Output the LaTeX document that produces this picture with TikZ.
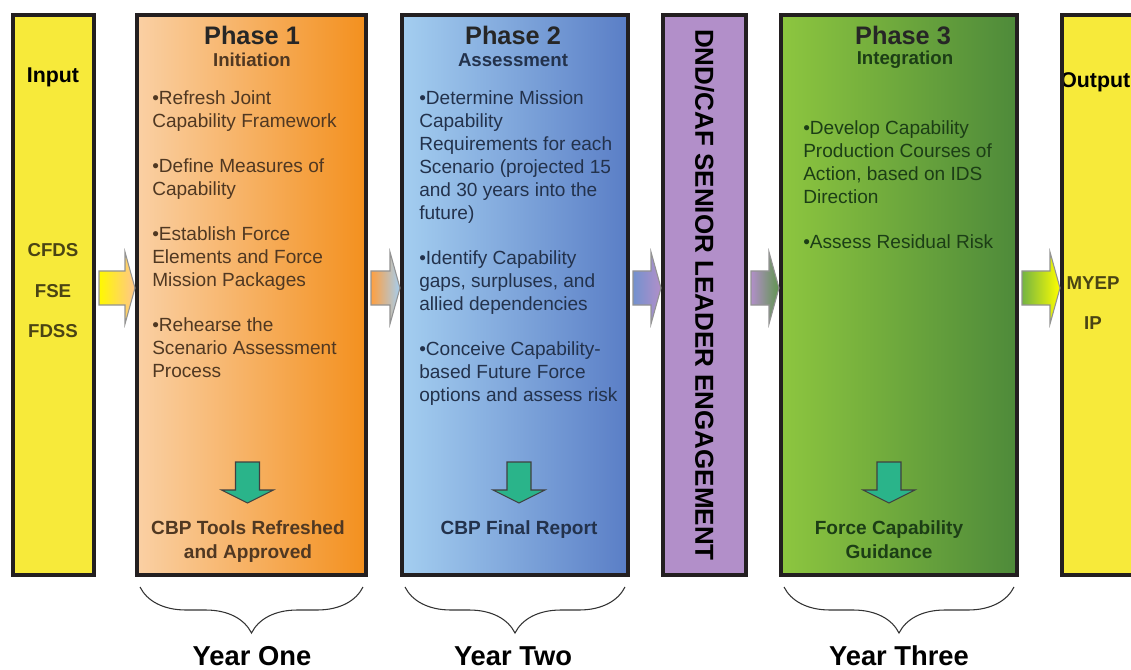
\documentclass[tikz,border=0pt]{standalone}
\usepackage{fontspec}
\setmainfont{Liberation Sans}
\usetikzlibrary{positioning, calc, decorations.pathreplacing}

\definecolor{boxline}{RGB}{35,31,32}
\definecolor{ioyellow}{RGB}{247,234,58}
\definecolor{iotext}{RGB}{74,68,20}
\definecolor{initpeach}{RGB}{250,208,164}
\definecolor{initmid}{RGB}{246,178,108}
\definecolor{initorange}{RGB}{243,144,30}
\definecolor{assesslight}{RGB}{164,206,240}
\definecolor{assessmid}{RGB}{124,166,222}
\definecolor{assessdark}{RGB}{90,126,198}
\definecolor{integlight}{RGB}{141,198,63}
\definecolor{integmid}{RGB}{116,180,66}
\definecolor{integdark}{RGB}{78,138,58}
\definecolor{leaderpurple}{RGB}{178,143,201}
\definecolor{resultgreen}{RGB}{42,180,138}
\definecolor{initink}{RGB}{80,56,34}
\definecolor{assessink}{RGB}{35,50,76}
\definecolor{integink}{RGB}{28,62,22}

% block arrow between two panels: from, to, left colour, right colour
\newcommand{\flowarrow}[4]{%
  \path[flow, left color=#3, right color=#4]
    ($(#1.east |- flowline)+(5,-17)$) -- ($(#2.west |- flowline)+(-12,-17)$)
    -- ($(#2.west |- flowline)+(-12,-36)$) -- ($(#2.west |- flowline)+(-2,0)$)
    -- ($(#2.west |- flowline)+(-12,36)$) -- ($(#2.west |- flowline)+(-12,17)$)
    -- ($(#1.east |- flowline)+(5,17)$) -- cycle;}

% green down arrow, top centre given
\newcommand{\resultarrow}[1]{%
  \draw[downarrow] (#1) ++(-12,0) -- ++(24,0) -- ++(0,28) -- ++(14,0)
    -- ++(-26,13) -- ++(-26,-13) -- ++(14,0) -- cycle;}

\begin{document}
\begin{tikzpicture}[
    x=0.75pt, y=-0.75pt,
    panel/.style={draw=boxline, line width=3.5pt, inner sep=0pt, outer sep=0pt,
        minimum height=420pt},
    heading/.style={font=\bfseries\fontsize{19}{22}\selectfont},
    subhead/.style={font=\bfseries\fontsize{14}{17}\selectfont},
    bullets/.style={align=left, anchor=north west, inner sep=0pt,
        font=\fontsize{14.3}{17.25}\selectfont},
    result/.style={align=center, anchor=north, inner sep=0pt,
        font=\bfseries\fontsize{14.3}{18}\selectfont},
    iolabel/.style={font=\bfseries\fontsize{14}{17}\selectfont, text=iotext},
    downarrow/.style={fill=resultgreen, draw=black!75, line width=0.8pt},
    flow/.style={draw=gray!85, line width=0.8pt},
    yearbrace/.style={decorate, decoration={brace, amplitude=34.5pt},
        draw=black!80, line width=0.8pt},
    year/.style={font=\bfseries\fontsize{20.5}{24}\selectfont}
]
\useasboundingbox (0,0) rectangle (1131,670);
\clip (0,0) rectangle (1131,670);
\coordinate (flowline) at (0,288);

% Panels
\node[panel, fill=ioyellow, minimum width=60.75pt] (inbox) at (53.5,295) {};
\node[panel, left color=initpeach, middle color=initmid, right color=initorange,
    minimum width=171.75pt] (ph1) at (251.5,295) {};
\node[panel, left color=assesslight, middle color=assessmid, right color=assessdark,
    minimum width=169.5pt] (ph2) at (515,295) {};
\node[panel, fill=leaderpurple, minimum width=62.25pt] (dnd) at (704.5,295) {};
\node[panel, left color=integlight, middle color=integmid, right color=integdark,
    minimum width=177pt] (ph3) at (899,295) {};
\node[panel, draw=none, fill=ioyellow, minimum width=66pt] (outbox) at (1106,295) {};

% Input column
\node[font=\bfseries\fontsize{16}{19}\selectfont] (inlbl) at (53,77) {Input};
\node[iolabel] (cfds) at (53,250) {CFDS};
\node[iolabel] (fse) at (53,291) {FSE};
\node[iolabel] (fdss) at (53,331) {FDSS};

% Phase 1
\node[heading, text=black!85] (ph1title) at (252,35) {Phase 1};
\node[subhead, text=initink] (ph1sub) at (252,60) {Initiation};
\node[bullets, text=initink] (ph1list) at (152,90) {%
  •Refresh Joint\\Capability Framework\\[16.5pt]
  •Define Measures of\\Capability\\[16.5pt]
  •Establish Force\\Elements and Force\\Mission Packages\\[16.5pt]
  •Rehearse the\\Scenario Assessment\\Process};
\resultarrow{$(ph1.south)+(-4,-113)$}
\node[result, text=initink] (ph1out) at (248,520) {CBP Tools Refreshed\\and Approved};

% Phase 2
\node[heading, text=black!85] (ph2title) at (513,35) {Phase 2};
\node[subhead, text=assessink] (ph2sub) at (513,60) {Assessment};
\node[bullets, text=assessink] (ph2list) at (419,90) {%
  •Determine Mission\\Capability\\Requirements for each\\Scenario (projected 15\\and 30 years into the\\future)\\[16.5pt]
  •Identify Capability\\gaps, surpluses, and\\allied dependencies\\[16.5pt]
  •Conceive Capability-\\based Future Force\\options and assess risk};
\resultarrow{$(ph2.south)+(4,-113)$}
\node[result, text=assessink] (ph2out) at (519,520) {CBP Final Report};

% Senior leader engagement
\node[rotate=-90, font=\bfseries\fontsize{19.5}{22}\selectfont] (dndlbl) at (dnd.center)
    {DND/CAF SENIOR LEADER ENGAGEMENT};

% Phase 3
\node[heading, text=black!85] (ph3title) at (903,35) {Phase 3};
\node[subhead, text=integink] (ph3sub) at (905,60) {Integration};
\node[bullets, text=integink] (ph3list) at (803,120) {%
  •Develop Capability\\Production Courses of\\Action, based on IDS\\Direction\\[16.5pt]
  •Assess Residual Risk};
\resultarrow{$(ph3.south)+(-10,-113)$}
\node[result, text=integink] (ph3out) at (889,520) {Force Capability\\Guidance};

% Output column
\node[font=\bfseries\fontsize{16}{19}\selectfont, anchor=west, inner sep=0pt] (outlbl)
    at (1060,82) {Output};
\draw[draw=boxline, line width=3.5pt] (outbox.north west) rectangle (outbox.south east);
\node[iolabel] (myep) at (1093,283) {MYEP};
\node[iolabel] (ip) at (1093,323) {IP};

% Flow between panels
\flowarrow{inbox}{ph1}{yellow!95!orange}{orange!45}
\flowarrow{ph1}{ph2}{orange!75}{assesslight}
\flowarrow{ph2}{dnd}{assessdark!85}{leaderpurple}
\flowarrow{dnd}{ph3}{leaderpurple}{integdark!90}
\flowarrow{ph3}{outbox}{integmid}{yellow}

% Years
\draw[yearbrace] ($(ph1.south east)+(-3,12)$) -- ($(ph1.south west)+(3,12)$);
\draw[yearbrace] ($(ph2.south east)+(-3,12)$) -- ($(ph2.south west)+(3,12)$);
\draw[yearbrace] ($(ph3.south east)+(-3,12)$) -- ($(ph3.south west)+(3,12)$);
\node[year, anchor=base] (y1) at (252,665) {Year One};
\node[year, anchor=base] (y2) at (513,665) {Year Two};
\node[year, anchor=base] (y3) at (899,665) {Year Three};

\end{tikzpicture}
\end{document}
